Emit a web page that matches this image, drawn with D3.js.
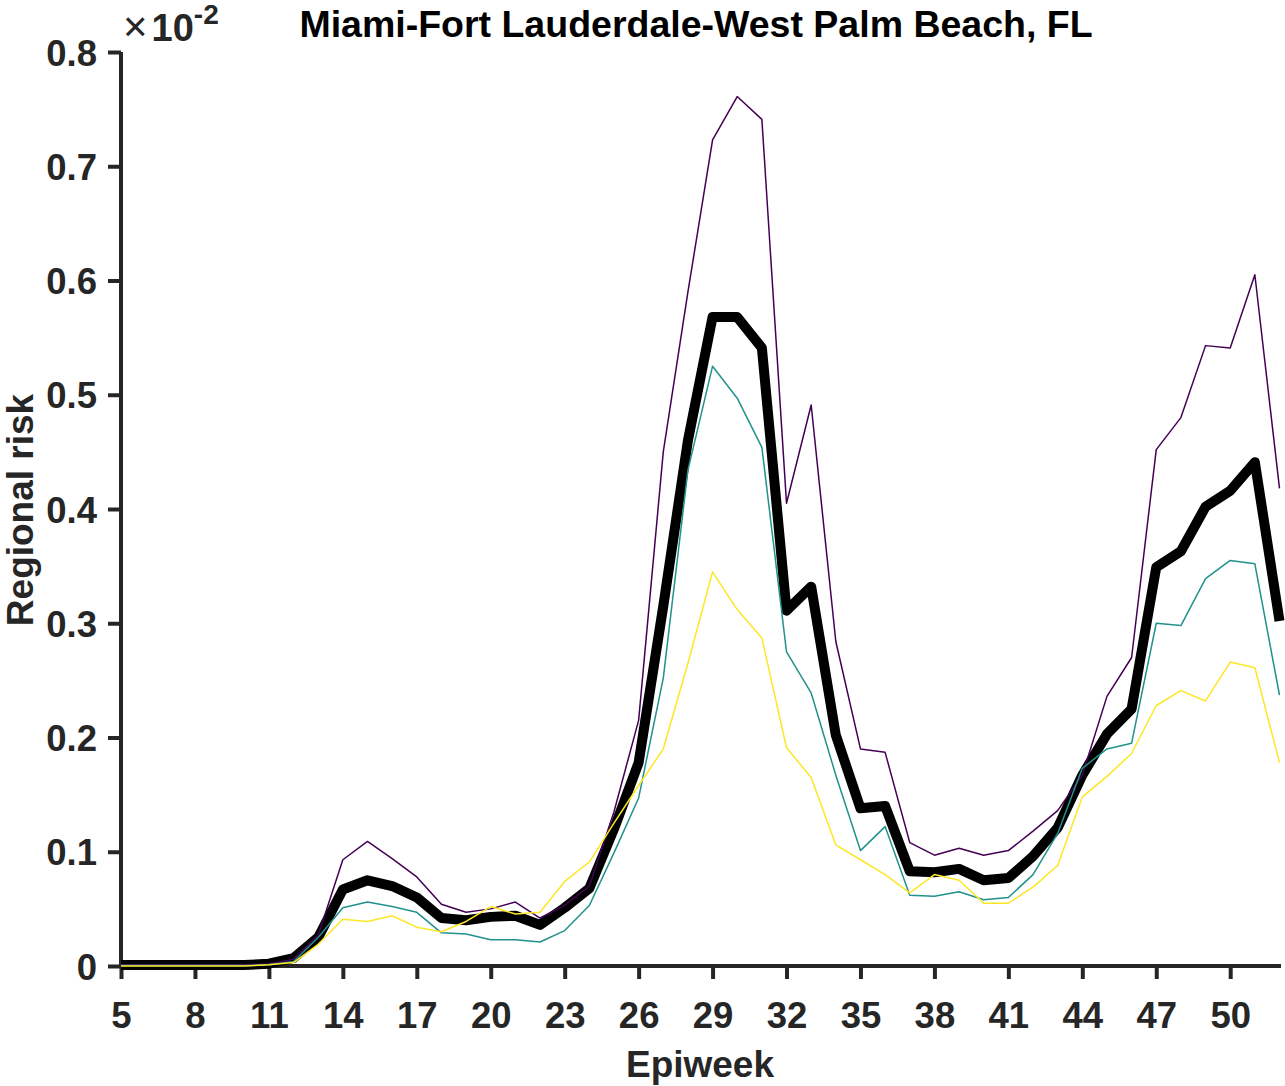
<!DOCTYPE html>
<html>
<head>
<meta charset="utf-8">
<script src="https://cdn.jsdelivr.net/npm/d3@7"></script>
<style>
  html, body { margin: 0; padding: 0; background: #fff; }
  svg { display: block; }
  text { font-family: "Liberation Sans", Arial, sans-serif; font-weight: bold; }
</style>
</head>
<body>
<svg id="chart" width="1285" height="1086"></svg>
<script>
const weeks = d3.range(5, 53);
const meanRisk = [0.0008,0.0008,0.0008,0.0008,0.0008,0.0008,0.002,0.007,0.025,0.067,0.075,0.070,0.060,0.042,0.040,0.043,0.044,0.036,0.051,0.068,0.120,0.178,0.315,0.460,0.568,0.568,0.541,0.311,0.332,0.202,0.138,0.140,0.083,0.082,0.085,0.075,0.077,0.096,0.121,0.167,0.203,0.225,0.349,0.363,0.402,0.416,0.441,0.302];
const purpleRisk = [0.001,0.001,0.001,0.001,0.001,0.001,0.002,0.006,0.027,0.093,0.109,0.094,0.078,0.054,0.047,0.050,0.056,0.042,0.053,0.070,0.135,0.215,0.450,0.590,0.723,0.761,0.741,0.405,0.491,0.284,0.190,0.187,0.108,0.097,0.103,0.097,0.101,0.118,0.136,0.167,0.236,0.270,0.452,0.480,0.543,0.541,0.605,0.418];
const tealRisk = [0.0005,0.0005,0.0005,0.0005,0.0005,0.0005,0.001,0.004,0.025,0.051,0.056,0.052,0.047,0.029,0.028,0.023,0.023,0.021,0.031,0.053,0.099,0.147,0.252,0.434,0.525,0.497,0.454,0.275,0.239,0.167,0.101,0.122,0.062,0.061,0.065,0.058,0.060,0.080,0.116,0.173,0.190,0.195,0.300,0.298,0.339,0.355,0.352,0.237];
const yellowRisk = [0,0,0,0,0,0,0.001,0.003,0.019,0.041,0.039,0.044,0.034,0.030,0.039,0.052,0.0455,0.047,0.074,0.091,0.125,0.158,0.190,0.265,0.345,0.312,0.287,0.191,0.165,0.106,0.093,0.080,0.064,0.080,0.075,0.055,0.055,0.069,0.088,0.148,0.166,0.186,0.228,0.241,0.232,0.266,0.261,0.178];
const xTicks = d3.range(5, 51, 3);
const yTicks = [0, 0.1, 0.2, 0.3, 0.4, 0.5, 0.6, 0.7, 0.8];
const titleText = "Miami-Fort Lauderdale-West Palm Beach, FL";
const xLabelText = "Epiweek";
const yLabelText = "Regional risk";

const svg = d3.select("#chart");
const mLeft = 121, mRight = 1281, mTop = 52, mBottom = 966;
const x = d3.scaleLinear().domain([5, 52]).range([mLeft, mRight - 1.5]);
const y = d3.scaleLinear().domain([0, 0.8]).range([mBottom, mTop]);
const axisColor = "#262626";

const line = d3.line().x((d, i) => x(weeks[i])).y(d => y(d));
const series = [
  {data: meanRisk, color: "#000000", width: 10},
  {data: purpleRisk, color: "#440154", width: 1.5},
  {data: tealRisk, color: "#21918c", width: 1.5},
  {data: yellowRisk, color: "#fde725", width: 1.5}
];

// axes
const xAxis = d3.axisBottom(x).tickValues(xTicks).tickSize(13).tickSizeOuter(0).tickPadding(23).tickFormat(d3.format("d"));
const gx = svg.append("g").attr("transform", `translate(0,${mBottom})`).call(xAxis);
const yAxis = d3.axisLeft(y).tickValues(yTicks).tickSize(13).tickSizeOuter(0).tickPadding(11).tickFormat(d => d === 0 ? "0" : d3.format(".1f")(d));
const gy = svg.append("g").attr("transform", `translate(${mLeft},0)`).call(yAxis);
[gx, gy].forEach(g => {
  g.select(".domain").attr("stroke", axisColor).attr("stroke-width", 4);
  g.selectAll(".tick line").attr("stroke", axisColor).attr("stroke-width", 4);
  g.selectAll(".tick text").attr("fill", axisColor).style("font-size", "36.5px")
    .style("font-family", "'Liberation Sans', Arial, sans-serif").style("font-weight", "bold");
});
gx.select(".domain").attr("d", `M${mLeft - 2},0H${mRight}`);
gy.select(".domain").attr("d", `M0,${mTop}V${mBottom + 2}`);
gy.selectAll(".tick text").attr("dy", "0.36em");
gx.selectAll(".tick text").attr("dy", "0.71em");

series.forEach(s => {
  svg.append("path").datum(s.data).attr("d", line)
    .attr("fill", "none").attr("stroke", s.color).attr("stroke-width", s.width)
    .attr("stroke-linejoin", "round").attr("stroke-linecap", "butt");
});

// exponent
const ex = svg.append("text").attr("x", 123).attr("y", 41).attr("fill", axisColor).style("font-size", "38px");
ex.append("tspan").text("×").style("font-weight", "normal").style("font-size", "42px");
ex.append("tspan").text("10").attr("dx", 4);
ex.append("tspan").text("-2").attr("dy", -17).style("font-size", "28px");

// title
svg.append("text").attr("x", 696).attr("y", 37).attr("text-anchor", "middle")
  .attr("fill", "#000").style("font-size", "37.5px").text(titleText);
// x label
svg.append("text").attr("x", 700).attr("y", 1077).attr("text-anchor", "middle")
  .attr("fill", axisColor).style("font-size", "37px").text(xLabelText);
// y label
svg.append("text").attr("transform", "translate(33,510) rotate(-90)").attr("text-anchor", "middle")
  .attr("fill", axisColor).style("font-size", "37px").text(yLabelText);
</script>
</body>
</html>
